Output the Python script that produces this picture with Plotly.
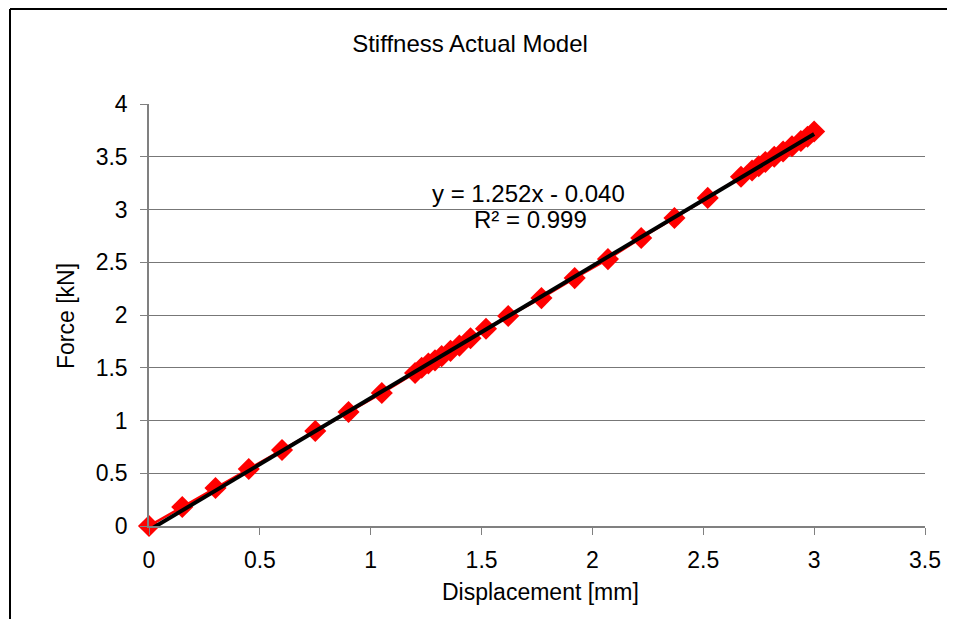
import plotly.graph_objects as go

displacement = [0.0, 0.15, 0.30, 0.45, 0.60, 0.75, 0.90, 1.05, 1.20, 1.23, 1.26, 1.29,
                1.32, 1.36, 1.40, 1.45, 1.52, 1.62, 1.77, 1.92, 2.07, 2.22, 2.37, 2.52,
                2.67, 2.72, 2.75, 2.78, 2.82, 2.86, 2.90, 2.94, 2.97, 3.00]
force = [0.0, 0.18, 0.36, 0.54, 0.72, 0.90, 1.08, 1.26, 1.45, 1.50, 1.54, 1.57,
         1.61, 1.66, 1.71, 1.78, 1.87, 1.99, 2.16, 2.35, 2.53, 2.73, 2.92, 3.11,
         3.31, 3.37, 3.41, 3.45, 3.50, 3.55, 3.60, 3.65, 3.69, 3.74]
slope = 1.252
intercept = -0.040
fit_x = [0.0, 3.0]
fit_y = [slope * v + intercept for v in fit_x]

font = "Liberation Sans, Arial, sans-serif"
OFF = 8  # page body margin
W, H = 955 - OFF, 619 - OFF
L, R, T, B = 149, 925, 104, 526  # plot area in page pixels
pw, ph = R - L, B - T


def px(x):
    return (x - L) / pw


def py(y):
    return (B - y) / ph


def label(text, x, y, size=23, angle=0):
    return dict(text=text, x=px(x), y=py(y), xref="paper", yref="paper",
                xanchor="center", yanchor="middle", textangle=angle,
                showarrow=False, font=dict(size=size))


def border(x0, y0, x1, y1):
    return dict(type="line", xref="paper", yref="paper", x0=px(x0), y0=py(y0),
                x1=px(x1), y1=py(y1), line=dict(color="black", width=2), layer="below")


fig = go.Figure()
fig.add_trace(go.Scatter(x=displacement, y=force, mode="lines+markers",
                         line=dict(color="#ff0000", width=2.5),
                         marker=dict(symbol="diamond", size=17, color="#ff0000"),
                         cliponaxis=False, showlegend=False))
fig.add_trace(go.Scatter(x=fit_x, y=fit_y, mode="lines",
                         line=dict(color="#000000", width=4), cliponaxis=False,
                         showlegend=False))

fig.update_layout(
    width=W, height=H,
    margin=dict(l=L - OFF, r=W - (R - OFF), t=T - OFF, b=H - (B - OFF), pad=0),
    paper_bgcolor="white", plot_bgcolor="white",
    font=dict(family=font, size=23, color="black"),
    title=dict(text="Stiffness Actual Model", x=(470 - OFF) / W, xanchor="center",
               y=1 - (44 - OFF) / H, yanchor="middle", font=dict(size=24, family=font)),
    xaxis=dict(range=[0, 3.5], dtick=0.5, tick0=0, showgrid=False, zeroline=False,
               showline=True, linecolor="#808080", linewidth=1.5,
               ticks="outside", ticklen=7, tickcolor="#808080",
               ticklabelstandoff=6, tickfont=dict(size=23)),
    yaxis=dict(range=[0, 4], dtick=0.5, tick0=0, showgrid=True, gridcolor="#777777",
               gridwidth=1, zeroline=False, showline=True, linecolor="#808080",
               linewidth=1.5, ticks="outside", ticklen=7, tickcolor="#808080",
               ticklabelstandoff=8, tickfont=dict(size=23)),
    annotations=[
        label("y = 1.252x - 0.040", 528, 193, size=24),
        label("R² = 0.999", 530, 219, size=24),
        label("Displacement [mm]", 540, 592),
        label("Force [kN]", 66, 316, angle=-90),
    ],
    shapes=[
        border(10, 9, 948, 9),
        border(10, 9, 10, 660),
        border(948, 9, 948, 660),
    ],
)

fig.write_html("out.html")
